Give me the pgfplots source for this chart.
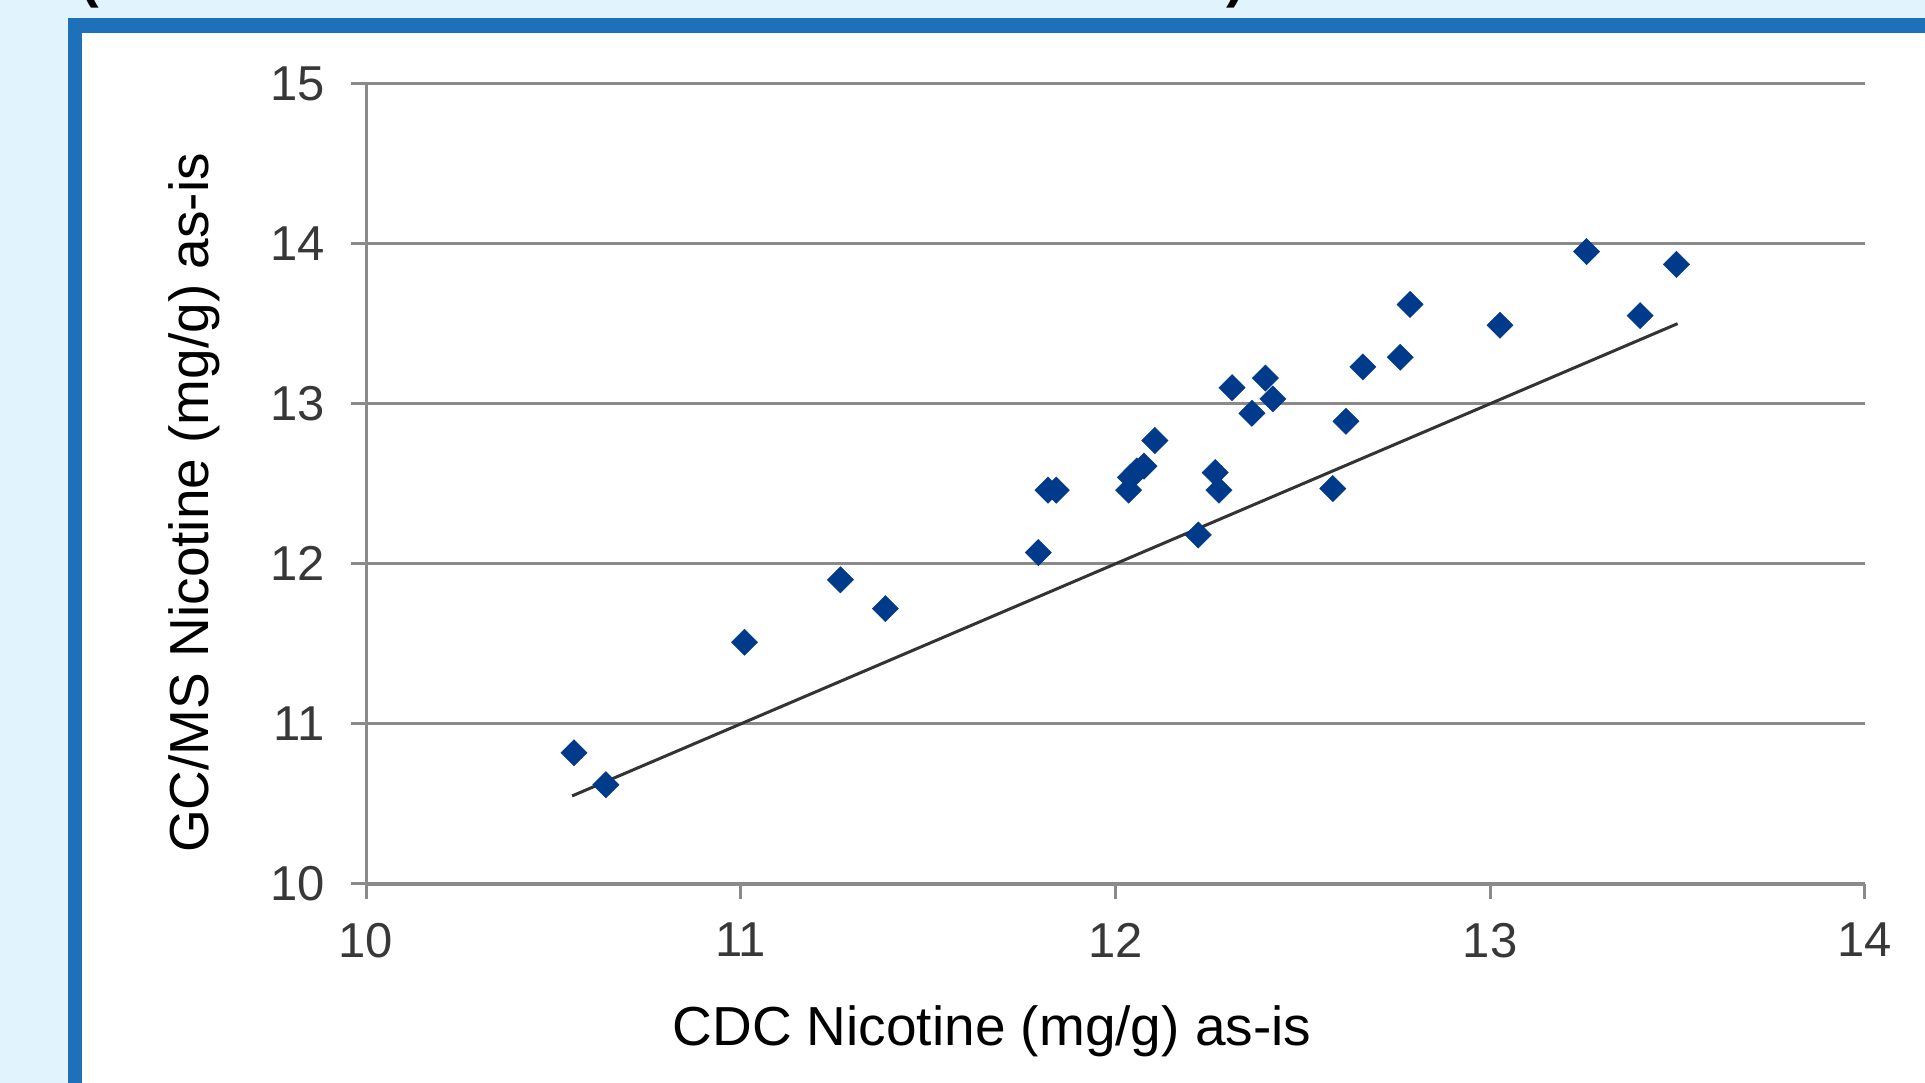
\documentclass[border=0pt]{standalone}
\usepackage{pgfplots}
\pgfplotsset{compat=1.18}
\usepackage{fontspec}
\setmainfont{Liberation Sans}
\definecolor{bgblue}{HTML}{E1F3FD}
\definecolor{frameblue}{HTML}{1E71B8}
\definecolor{markblue}{HTML}{003A8A}
\definecolor{gridgray}{HTML}{8A8A8A}
\definecolor{ticktext}{HTML}{383838}
\begin{document}
\begin{tikzpicture}
\useasboundingbox (0pt,0pt) rectangle (1925pt,1083pt);
\fill[bgblue] (0pt,0pt) rectangle (1925pt,1083pt);
\fill[frameblue] (68pt,0pt) rectangle (1925pt,1065pt);
\fill[white] (82pt,0pt) rectangle (1925pt,1050pt);
\node[anchor=base, font=\bfseries\fontsize{56}{60}\selectfont, inner sep=0pt] at (90pt,1086pt) {(};
\node[anchor=base, font=\bfseries\fontsize{56}{60}\selectfont, inner sep=0pt] at (1236pt,1086pt) {)};
\begin{axis}[
  at={(366pt,199pt)}, anchor=south west,
  scale only axis, width=1499pt, height=800.5pt,
  xmin=10, xmax=14, ymin=10, ymax=15,
  xtick={10,11,12,13,14}, ytick={10,11,12,13,14,15},
  axis x line*=bottom, axis y line*=left,
  x axis line style={gridgray, line width=3pt},
  y axis line style={gridgray, line width=3pt},
  ymajorgrids, major grid style={gridgray, line width=3.2pt},
  tick align=outside, major tick length=15pt,
  tick style={gridgray, line width=3pt},
  /pgf/number format/assume math mode=true,
  ticklabel style={font=\fontsize{49}{56}\selectfont, text=ticktext},
  yticklabel style={inner sep=0pt, xshift=-26pt},
  xticklabel style={inner sep=0pt, yshift=-24pt},
  xlabel={CDC Nicotine (mg/g) as-is},
  ylabel={GC/MS Nicotine (mg/g) as-is},
  label style={font=\fontsize{55}{62}\selectfont},
  xlabel style={at={(axis description cs:0.4176,-0.184)}, anchor=center},
  ylabel style={at={(axis description cs:-0.1147,0.476)}, anchor=center},
]
\addplot[color=black!80, line width=3pt, no marks] coordinates {(10.55,10.55) (13.5,13.5)};
\addplot[only marks, mark=square*, mark size=9.3pt, mark options={rotate=45, fill=markblue, draw=markblue}] coordinates {
(10.555,10.82)
(10.640,10.62)
(11.010,11.51)
(11.266,11.90)
(11.386,11.72)
(11.794,12.07)
(11.820,12.46)
(11.842,12.46)
(12.035,12.46)
(12.040,12.54)
(12.057,12.58)
(12.076,12.61)
(12.105,12.77)
(12.221,12.18)
(12.266,12.57)
(12.276,12.46)
(12.311,13.10)
(12.364,12.94)
(12.400,13.16)
(12.420,13.03)
(12.580,12.47)
(12.615,12.89)
(12.660,13.23)
(12.760,13.29)
(12.786,13.62)
(13.026,13.49)
(13.257,13.95)
(13.400,13.55)
(13.497,13.87)
};
\end{axis}
\end{tikzpicture}
\end{document}
